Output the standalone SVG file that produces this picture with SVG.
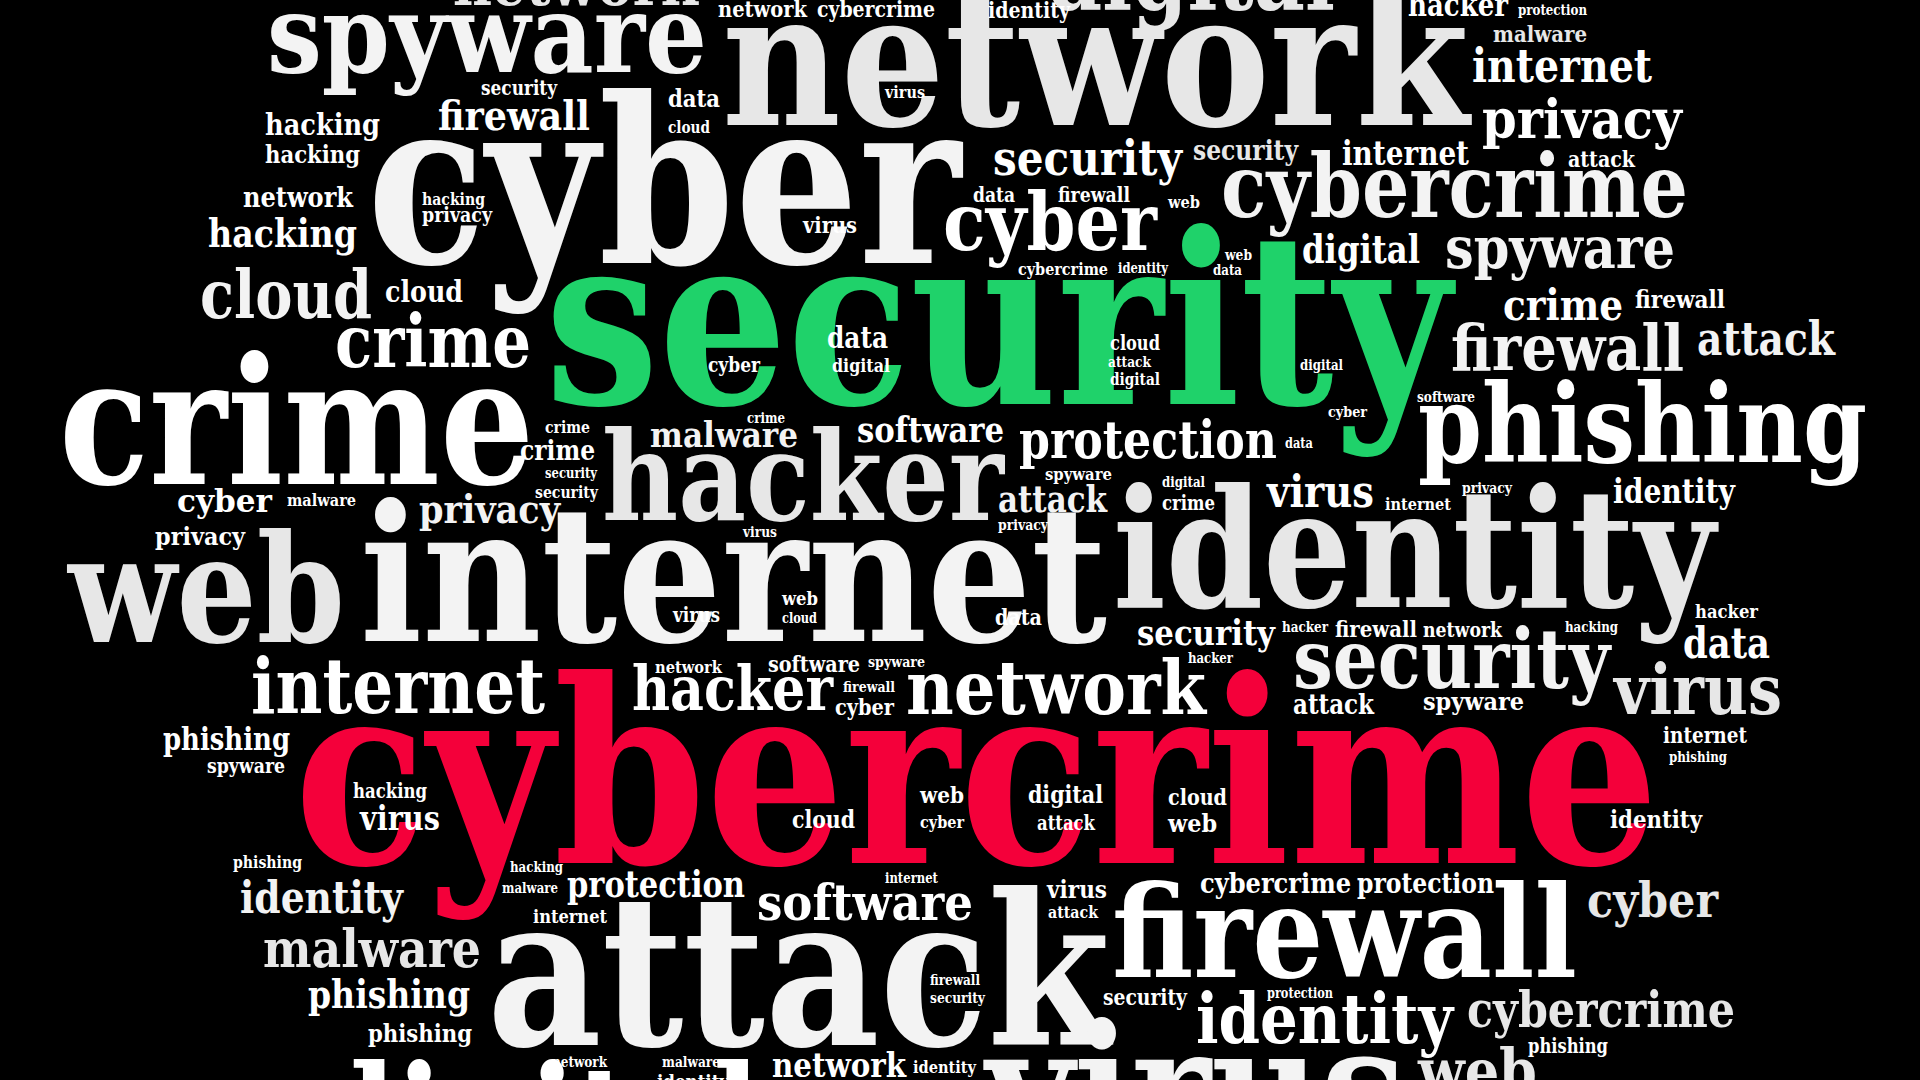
<svg xmlns="http://www.w3.org/2000/svg" width="1920" height="1080" viewBox="0 0 1920 1080">
<style>
text{font-family:"DejaVu Serif","Liberation Serif",serif;font-weight:bold;font-stretch:condensed}
.a{fill:#f3f3f3}.b{fill:#e7e7e7}.c{fill:#ffffff}.gr{fill:#1fd26a}.rd{fill:#f4003a}
</style>
<rect width="1920" height="1080" fill="#000"/>
<g id="cloud-big">
<text class="b" x="453" y="5" font-size="62" textLength="245" lengthAdjust="spacingAndGlyphs">network</text>
<text class="b" x="1047" y="10" font-size="95" textLength="288" lengthAdjust="spacingAndGlyphs">digital</text>
<text class="a" x="267" y="72" font-size="108" textLength="440" lengthAdjust="spacingAndGlyphs">spyware</text>
<text class="b" x="722" y="125" font-size="188" textLength="747" lengthAdjust="spacingAndGlyphs">network</text>
<text class="a" x="367" y="263" font-size="230" textLength="594" lengthAdjust="spacingAndGlyphs">cyber</text>
<text class="a" x="1221" y="217" font-size="87" textLength="467" lengthAdjust="spacingAndGlyphs">cybercrime</text>
<text class="c" x="943" y="250" font-size="80" textLength="214" lengthAdjust="spacingAndGlyphs">cyber</text>
<text class="gr" x="545" y="404" font-size="237" textLength="906" lengthAdjust="spacingAndGlyphs">security</text>
<text class="c" x="59" y="484" font-size="176" textLength="475" lengthAdjust="spacingAndGlyphs">crime</text>
<text class="c" x="1418" y="462" font-size="109" textLength="449" lengthAdjust="spacingAndGlyphs">phishing</text>
<text class="b" x="602" y="520" font-size="123" textLength="402" lengthAdjust="spacingAndGlyphs">hacker</text>
<text class="b" x="68" y="642" font-size="150" textLength="277" lengthAdjust="spacingAndGlyphs">web</text>
<text class="a" x="360" y="641" font-size="190" textLength="747" lengthAdjust="spacingAndGlyphs">internet</text>
<text class="b" x="1113" y="607" font-size="164" textLength="602" lengthAdjust="spacingAndGlyphs">identity</text>
<text class="rd" x="294" y="863" font-size="255" textLength="1365" lengthAdjust="spacingAndGlyphs">cybercrime</text>
<text class="a" x="487" y="1045" font-size="210" textLength="623" lengthAdjust="spacingAndGlyphs">attack</text>
<text class="c" x="1112" y="977" font-size="128" textLength="465" lengthAdjust="spacingAndGlyphs">firewall</text>
<text class="a" x="986" y="1150" font-size="174" textLength="420" lengthAdjust="spacingAndGlyphs">virus</text>
<text class="c" x="310" y="1172" font-size="148" textLength="450" lengthAdjust="spacingAndGlyphs">digital</text>
</g>
<g id="cloud-mid">
<text class="c" x="1472" y="82" font-size="46" textLength="180" lengthAdjust="spacingAndGlyphs">internet</text>
<text class="c" x="438" y="130" font-size="41" textLength="152" lengthAdjust="spacingAndGlyphs">firewall</text>
<text class="c" x="1482" y="138" font-size="55" textLength="200" lengthAdjust="spacingAndGlyphs">privacy</text>
<text class="c" x="993" y="175" font-size="48" textLength="189" lengthAdjust="spacingAndGlyphs">security</text>
<text class="c" x="1302" y="263" font-size="39" textLength="118" lengthAdjust="spacingAndGlyphs">digital</text>
<text class="a" x="1445" y="268" font-size="58" textLength="230" lengthAdjust="spacingAndGlyphs">spyware</text>
<text class="a" x="200" y="318" font-size="67" textLength="172" lengthAdjust="spacingAndGlyphs">cloud</text>
<text class="c" x="335" y="367" font-size="73" textLength="196" lengthAdjust="spacingAndGlyphs">crime</text>
<text class="c" x="1503" y="320" font-size="42" textLength="120" lengthAdjust="spacingAndGlyphs">crime</text>
<text class="a" x="1451" y="370" font-size="63" textLength="233" lengthAdjust="spacingAndGlyphs">firewall</text>
<text class="a" x="1697" y="355" font-size="46" textLength="138" lengthAdjust="spacingAndGlyphs">attack</text>
<text class="a" x="650" y="447" font-size="36" textLength="148" lengthAdjust="spacingAndGlyphs">malware</text>
<text class="c" x="857" y="442" font-size="36" textLength="147" lengthAdjust="spacingAndGlyphs">software</text>
<text class="c" x="1019" y="458" font-size="53" textLength="258" lengthAdjust="spacingAndGlyphs">protection</text>
<text class="a" x="419" y="523" font-size="40" textLength="141" lengthAdjust="spacingAndGlyphs">privacy</text>
<text class="a" x="998" y="512" font-size="37" textLength="109" lengthAdjust="spacingAndGlyphs">attack</text>
<text class="c" x="1267" y="507" font-size="44" textLength="107" lengthAdjust="spacingAndGlyphs">virus</text>
<text class="c" x="1613" y="503" font-size="33" textLength="122" lengthAdjust="spacingAndGlyphs">identity</text>
<text class="c" x="1137" y="645" font-size="36" textLength="138" lengthAdjust="spacingAndGlyphs">security</text>
<text class="c" x="1683" y="658" font-size="42" textLength="87" lengthAdjust="spacingAndGlyphs">data</text>
<text class="a" x="1293" y="688" font-size="82" textLength="317" lengthAdjust="spacingAndGlyphs">security</text>
<text class="c" x="251" y="713" font-size="76" textLength="294" lengthAdjust="spacingAndGlyphs">internet</text>
<text class="c" x="632" y="710" font-size="62" textLength="201" lengthAdjust="spacingAndGlyphs">hacker</text>
<text class="c" x="906" y="714" font-size="74" textLength="300" lengthAdjust="spacingAndGlyphs">network</text>
<text class="b" x="1614" y="714" font-size="70" textLength="168" lengthAdjust="spacingAndGlyphs">virus</text>
<text class="c" x="567" y="897" font-size="37" textLength="178" lengthAdjust="spacingAndGlyphs">protection</text>
<text class="c" x="757" y="920" font-size="50" textLength="216" lengthAdjust="spacingAndGlyphs">software</text>
<text class="b" x="1587" y="917" font-size="48" textLength="131" lengthAdjust="spacingAndGlyphs">cyber</text>
<text class="a" x="240" y="913" font-size="44" textLength="163" lengthAdjust="spacingAndGlyphs">identity</text>
<text class="b" x="263" y="967" font-size="52" textLength="218" lengthAdjust="spacingAndGlyphs">malware</text>
<text class="c" x="308" y="1008" font-size="39" textLength="162" lengthAdjust="spacingAndGlyphs">phishing</text>
<text class="c" x="1196" y="1043" font-size="69" textLength="257" lengthAdjust="spacingAndGlyphs">identity</text>
<text class="b" x="1467" y="1027" font-size="50" textLength="268" lengthAdjust="spacingAndGlyphs">cybercrime</text>
<text class="b" x="1418" y="1092" font-size="60" textLength="119" lengthAdjust="spacingAndGlyphs">web</text>
<text class="c" x="772" y="1077" font-size="34" textLength="134" lengthAdjust="spacingAndGlyphs">network</text>
</g>
<g id="cloud-small">
<text class="c" x="718" y="17" font-size="22" textLength="89" lengthAdjust="spacingAndGlyphs">network</text>
<text class="c" x="817" y="17" font-size="22" textLength="118" lengthAdjust="spacingAndGlyphs">cybercrime</text>
<text class="c" x="988" y="18" font-size="22" textLength="82" lengthAdjust="spacingAndGlyphs">identity</text>
<text class="c" x="1408" y="16" font-size="31" textLength="100" lengthAdjust="spacingAndGlyphs">hacker</text>
<text class="c" x="1518" y="15" font-size="14" textLength="69" lengthAdjust="spacingAndGlyphs">protection</text>
<text class="b" x="1493" y="42" font-size="23" textLength="94" lengthAdjust="spacingAndGlyphs">malware</text>
<text class="c" x="481" y="95" font-size="20" textLength="76" lengthAdjust="spacingAndGlyphs">security</text>
<text class="c" x="668" y="107" font-size="25" textLength="52" lengthAdjust="spacingAndGlyphs">data</text>
<text class="c" x="668" y="133" font-size="16" textLength="42" lengthAdjust="spacingAndGlyphs">cloud</text>
<text class="c" x="885" y="98" font-size="17" textLength="40" lengthAdjust="spacingAndGlyphs">virus</text>
<text class="c" x="265" y="135" font-size="30" textLength="115" lengthAdjust="spacingAndGlyphs">hacking</text>
<text class="c" x="265" y="163" font-size="25" textLength="95" lengthAdjust="spacingAndGlyphs">hacking</text>
<text class="b" x="1193" y="160" font-size="27" textLength="105" lengthAdjust="spacingAndGlyphs">security</text>
<text class="c" x="1342" y="165" font-size="33" textLength="127" lengthAdjust="spacingAndGlyphs">internet</text>
<text class="c" x="1568" y="167" font-size="22" textLength="67" lengthAdjust="spacingAndGlyphs">attack</text>
<text class="c" x="243" y="207" font-size="28" textLength="110" lengthAdjust="spacingAndGlyphs">network</text>
<text class="c" x="422" y="205" font-size="17" textLength="63" lengthAdjust="spacingAndGlyphs">hacking</text>
<text class="c" x="422" y="222" font-size="20" textLength="70" lengthAdjust="spacingAndGlyphs">privacy</text>
<text class="c" x="208" y="247" font-size="39" textLength="149" lengthAdjust="spacingAndGlyphs">hacking</text>
<text class="c" x="973" y="202" font-size="20" textLength="42" lengthAdjust="spacingAndGlyphs">data</text>
<text class="c" x="1058" y="202" font-size="20" textLength="72" lengthAdjust="spacingAndGlyphs">firewall</text>
<text class="c" x="1168" y="208" font-size="16" textLength="32" lengthAdjust="spacingAndGlyphs">web</text>
<text class="c" x="803" y="233" font-size="22" textLength="54" lengthAdjust="spacingAndGlyphs">virus</text>
<text class="c" x="1018" y="275" font-size="17" textLength="90" lengthAdjust="spacingAndGlyphs">cybercrime</text>
<text class="c" x="1118" y="273" font-size="14" textLength="50" lengthAdjust="spacingAndGlyphs">identity</text>
<text class="c" x="1225" y="260" font-size="14" textLength="27" lengthAdjust="spacingAndGlyphs">web</text>
<text class="c" x="1213" y="275" font-size="14" textLength="29" lengthAdjust="spacingAndGlyphs">data</text>
<text class="c" x="385" y="302" font-size="30" textLength="78" lengthAdjust="spacingAndGlyphs">cloud</text>
<text class="c" x="827" y="348" font-size="29" textLength="61" lengthAdjust="spacingAndGlyphs">data</text>
<text class="c" x="708" y="372" font-size="20" textLength="52" lengthAdjust="spacingAndGlyphs">cyber</text>
<text class="c" x="832" y="372" font-size="19" textLength="58" lengthAdjust="spacingAndGlyphs">digital</text>
<text class="c" x="1110" y="350" font-size="20" textLength="50" lengthAdjust="spacingAndGlyphs">cloud</text>
<text class="c" x="1108" y="367" font-size="15" textLength="43" lengthAdjust="spacingAndGlyphs">attack</text>
<text class="c" x="1110" y="385" font-size="17" textLength="50" lengthAdjust="spacingAndGlyphs">digital</text>
<text class="c" x="1300" y="370" font-size="14" textLength="43" lengthAdjust="spacingAndGlyphs">digital</text>
<text class="c" x="1635" y="308" font-size="25" textLength="90" lengthAdjust="spacingAndGlyphs">firewall</text>
<text class="c" x="1417" y="402" font-size="14" textLength="58" lengthAdjust="spacingAndGlyphs">software</text>
<text class="c" x="1328" y="417" font-size="15" textLength="39" lengthAdjust="spacingAndGlyphs">cyber</text>
<text class="c" x="747" y="423" font-size="14" textLength="38" lengthAdjust="spacingAndGlyphs">crime</text>
<text class="c" x="545" y="433" font-size="17" textLength="45" lengthAdjust="spacingAndGlyphs">crime</text>
<text class="c" x="520" y="460" font-size="28" textLength="75" lengthAdjust="spacingAndGlyphs">crime</text>
<text class="c" x="545" y="478" font-size="14" textLength="52" lengthAdjust="spacingAndGlyphs">security</text>
<text class="c" x="535" y="498" font-size="17" textLength="63" lengthAdjust="spacingAndGlyphs">security</text>
<text class="c" x="1285" y="448" font-size="14" textLength="28" lengthAdjust="spacingAndGlyphs">data</text>
<text class="c" x="177" y="512" font-size="32" textLength="95" lengthAdjust="spacingAndGlyphs">cyber</text>
<text class="c" x="287" y="506" font-size="17" textLength="69" lengthAdjust="spacingAndGlyphs">malware</text>
<text class="c" x="155" y="545" font-size="25" textLength="90" lengthAdjust="spacingAndGlyphs">privacy</text>
<text class="c" x="743" y="537" font-size="14" textLength="34" lengthAdjust="spacingAndGlyphs">virus</text>
<text class="c" x="1045" y="480" font-size="17" textLength="67" lengthAdjust="spacingAndGlyphs">spyware</text>
<text class="c" x="998" y="530" font-size="14" textLength="50" lengthAdjust="spacingAndGlyphs">privacy</text>
<text class="c" x="1162" y="487" font-size="15" textLength="43" lengthAdjust="spacingAndGlyphs">digital</text>
<text class="c" x="1162" y="510" font-size="20" textLength="53" lengthAdjust="spacingAndGlyphs">crime</text>
<text class="c" x="1385" y="510" font-size="17" textLength="66" lengthAdjust="spacingAndGlyphs">internet</text>
<text class="c" x="1462" y="493" font-size="14" textLength="50" lengthAdjust="spacingAndGlyphs">privacy</text>
<text class="c" x="673" y="622" font-size="20" textLength="47" lengthAdjust="spacingAndGlyphs">virus</text>
<text class="c" x="782" y="605" font-size="19" textLength="36" lengthAdjust="spacingAndGlyphs">web</text>
<text class="c" x="782" y="623" font-size="14" textLength="35" lengthAdjust="spacingAndGlyphs">cloud</text>
<text class="c" x="995" y="625" font-size="23" textLength="47" lengthAdjust="spacingAndGlyphs">data</text>
<text class="c" x="1282" y="632" font-size="14" textLength="46" lengthAdjust="spacingAndGlyphs">hacker</text>
<text class="c" x="1335" y="637" font-size="22" textLength="82" lengthAdjust="spacingAndGlyphs">firewall</text>
<text class="c" x="1423" y="637" font-size="20" textLength="79" lengthAdjust="spacingAndGlyphs">network</text>
<text class="c" x="1565" y="632" font-size="14" textLength="53" lengthAdjust="spacingAndGlyphs">hacking</text>
<text class="c" x="1695" y="618" font-size="19" textLength="63" lengthAdjust="spacingAndGlyphs">hacker</text>
<text class="c" x="1188" y="663" font-size="14" textLength="45" lengthAdjust="spacingAndGlyphs">hacker</text>
<text class="c" x="655" y="673" font-size="17" textLength="67" lengthAdjust="spacingAndGlyphs">network</text>
<text class="c" x="768" y="672" font-size="22" textLength="92" lengthAdjust="spacingAndGlyphs">software</text>
<text class="c" x="868" y="667" font-size="14" textLength="57" lengthAdjust="spacingAndGlyphs">spyware</text>
<text class="c" x="843" y="692" font-size="14" textLength="52" lengthAdjust="spacingAndGlyphs">firewall</text>
<text class="c" x="835" y="715" font-size="22" textLength="59" lengthAdjust="spacingAndGlyphs">cyber</text>
<text class="c" x="1293" y="714" font-size="27" textLength="81" lengthAdjust="spacingAndGlyphs">attack</text>
<text class="c" x="1423" y="710" font-size="25" textLength="101" lengthAdjust="spacingAndGlyphs">spyware</text>
<text class="c" x="1663" y="743" font-size="22" textLength="84" lengthAdjust="spacingAndGlyphs">internet</text>
<text class="c" x="1669" y="762" font-size="14" textLength="58" lengthAdjust="spacingAndGlyphs">phishing</text>
<text class="c" x="163" y="750" font-size="31" textLength="127" lengthAdjust="spacingAndGlyphs">phishing</text>
<text class="c" x="207" y="773" font-size="20" textLength="78" lengthAdjust="spacingAndGlyphs">spyware</text>
<text class="c" x="353" y="798" font-size="20" textLength="74" lengthAdjust="spacingAndGlyphs">hacking</text>
<text class="c" x="360" y="830" font-size="33" textLength="80" lengthAdjust="spacingAndGlyphs">virus</text>
<text class="c" x="920" y="803" font-size="22" textLength="44" lengthAdjust="spacingAndGlyphs">web</text>
<text class="c" x="920" y="828" font-size="17" textLength="44" lengthAdjust="spacingAndGlyphs">cyber</text>
<text class="c" x="1028" y="803" font-size="25" textLength="75" lengthAdjust="spacingAndGlyphs">digital</text>
<text class="c" x="1037" y="830" font-size="20" textLength="58" lengthAdjust="spacingAndGlyphs">attack</text>
<text class="c" x="1168" y="805" font-size="23" textLength="59" lengthAdjust="spacingAndGlyphs">cloud</text>
<text class="c" x="1168" y="832" font-size="25" textLength="49" lengthAdjust="spacingAndGlyphs">web</text>
<text class="c" x="792" y="828" font-size="25" textLength="63" lengthAdjust="spacingAndGlyphs">cloud</text>
<text class="c" x="1610" y="828" font-size="25" textLength="92" lengthAdjust="spacingAndGlyphs">identity</text>
<text class="c" x="233" y="868" font-size="17" textLength="69" lengthAdjust="spacingAndGlyphs">phishing</text>
<text class="c" x="510" y="872" font-size="14" textLength="53" lengthAdjust="spacingAndGlyphs">hacking</text>
<text class="c" x="502" y="893" font-size="14" textLength="56" lengthAdjust="spacingAndGlyphs">malware</text>
<text class="c" x="885" y="883" font-size="14" textLength="53" lengthAdjust="spacingAndGlyphs">internet</text>
<text class="c" x="533" y="923" font-size="19" textLength="74" lengthAdjust="spacingAndGlyphs">internet</text>
<text class="c" x="1047" y="898" font-size="25" textLength="60" lengthAdjust="spacingAndGlyphs">virus</text>
<text class="c" x="1048" y="918" font-size="17" textLength="50" lengthAdjust="spacingAndGlyphs">attack</text>
<text class="c" x="1200" y="893" font-size="28" textLength="151" lengthAdjust="spacingAndGlyphs">cybercrime</text>
<text class="c" x="1357" y="893" font-size="28" textLength="137" lengthAdjust="spacingAndGlyphs">protection</text>
<text class="c" x="368" y="1042" font-size="25" textLength="104" lengthAdjust="spacingAndGlyphs">phishing</text>
<text class="c" x="930" y="985" font-size="14" textLength="50" lengthAdjust="spacingAndGlyphs">firewall</text>
<text class="c" x="930" y="1003" font-size="14" textLength="55" lengthAdjust="spacingAndGlyphs">security</text>
<text class="c" x="1103" y="1005" font-size="22" textLength="84" lengthAdjust="spacingAndGlyphs">security</text>
<text class="c" x="1267" y="998" font-size="14" textLength="66" lengthAdjust="spacingAndGlyphs">protection</text>
<text class="c" x="1528" y="1053" font-size="20" textLength="80" lengthAdjust="spacingAndGlyphs">phishing</text>
<text class="c" x="552" y="1067" font-size="14" textLength="55" lengthAdjust="spacingAndGlyphs">network</text>
<text class="c" x="662" y="1067" font-size="14" textLength="58" lengthAdjust="spacingAndGlyphs">malware</text>
<text class="c" x="657" y="1088" font-size="19" textLength="72" lengthAdjust="spacingAndGlyphs">identity</text>
<text class="c" x="913" y="1073" font-size="17" textLength="63" lengthAdjust="spacingAndGlyphs">identity</text>
</g>
</svg>
